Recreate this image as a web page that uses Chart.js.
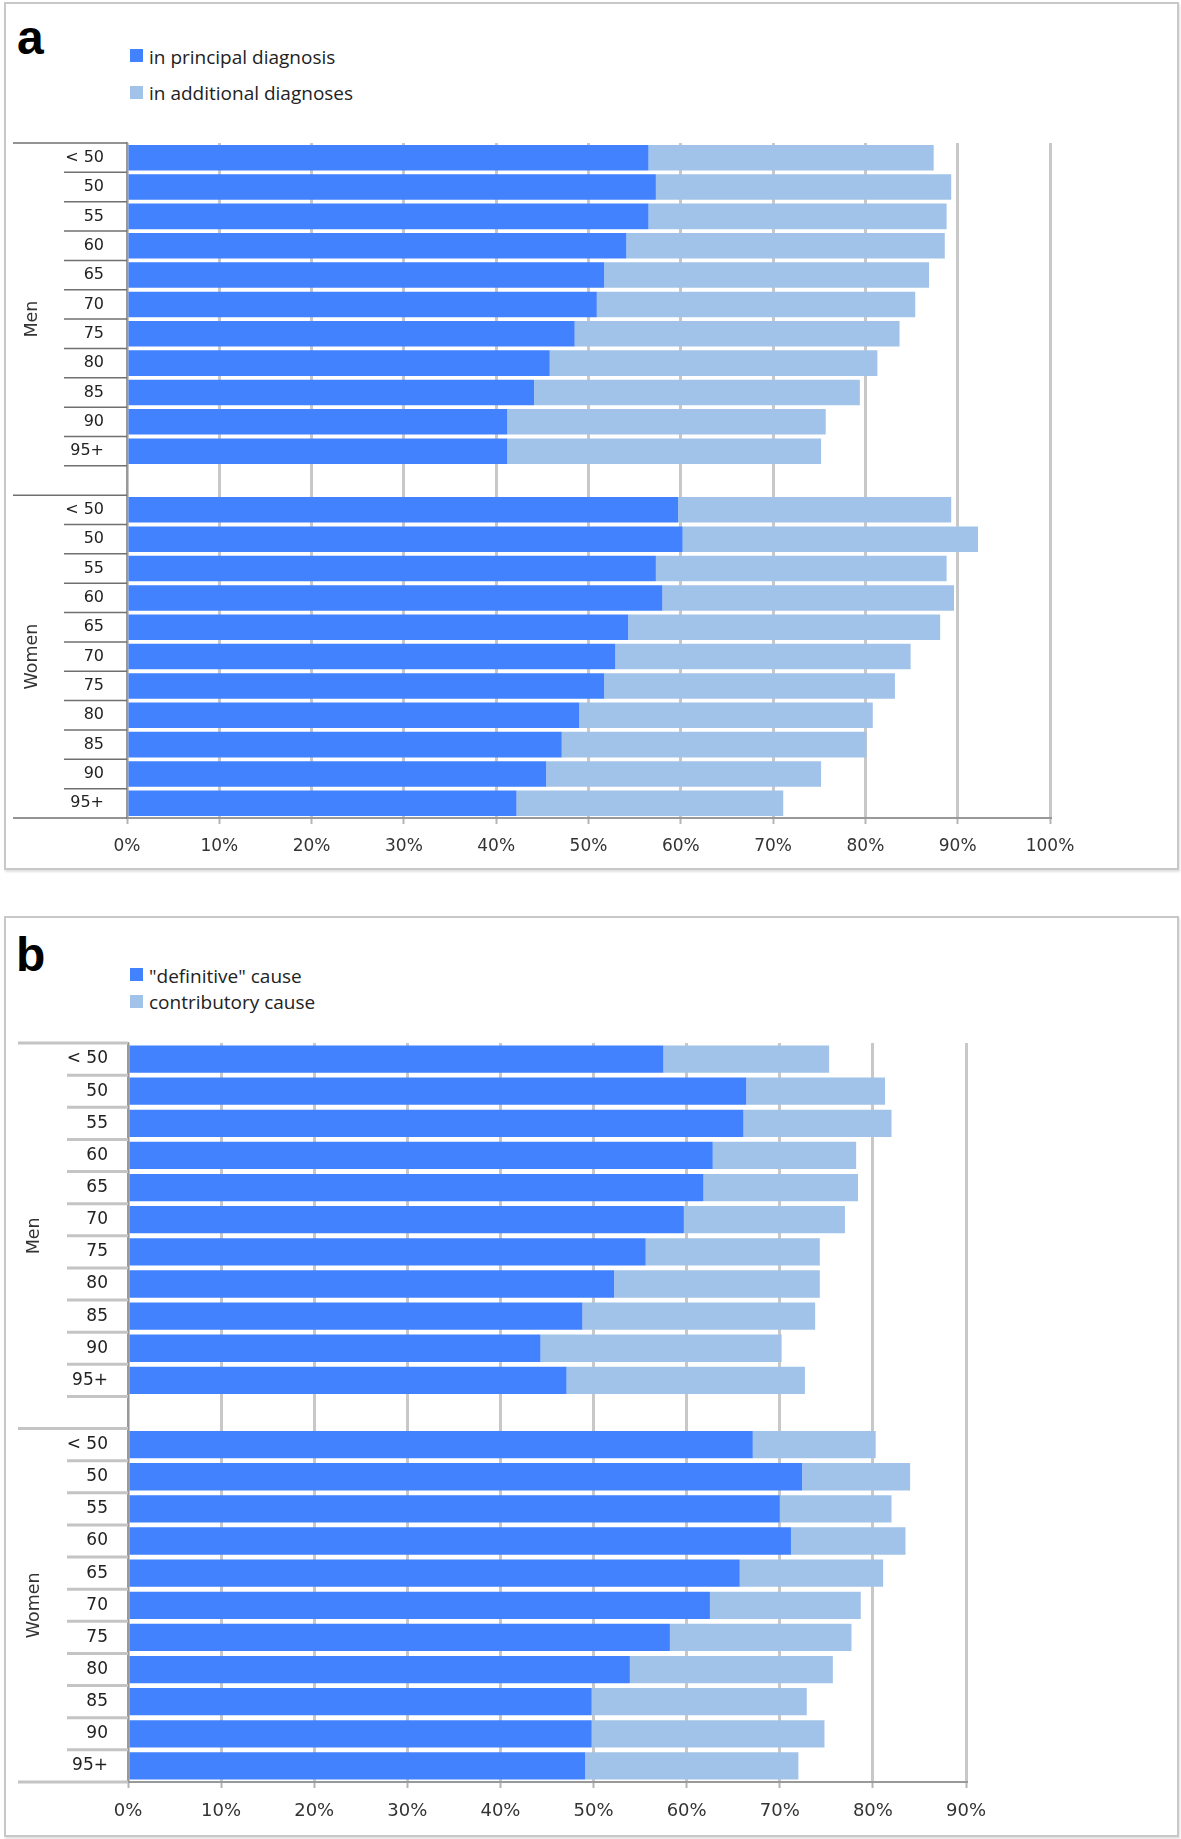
<!DOCTYPE html>
<html>
<head>
<meta charset="utf-8">
<title>Principal vs additional diagnoses by age and sex</title>
<script src="https://cdn.jsdelivr.net/npm/chart.js@4.4.0/dist/chart.umd.min.js"></script>
<style>
  html, body { margin: 0; padding: 0; background: #fff; }
  #page { position: relative; width: 1181px; height: 1839px; overflow: hidden; }
  .panel { position: absolute; left: 4px; width: 1175px; box-sizing: border-box;
           border: 2px solid #c8c8c8; box-shadow: 1px 2px 2px rgba(0,0,0,0.12); }
  .tag { position: absolute; font-family: 'Liberation Sans', Arial, sans-serif; font-weight: bold;
         font-size: 48px; line-height: 48px; color: #000; }
  .chart-box { position: absolute; left: 0; width: 1181px; }
  .swatch { position: absolute; width: 13px; height: 13px; }
  .legend-text { position: absolute; white-space: nowrap; font-family: 'Open Sans', sans-serif;
                 font-size: 19px; line-height: 19px; color: #222; }
</style>
</head>
<body>
<div id="page">
  <div class="panel" style="top:2px; height:868px;"></div>
  <div class="panel" style="top:916px; height:921px;"></div>
  <div class="tag" style="left:17px; top:14px;">a</div>
  <div class="tag" style="left:16px; top:931px;">b</div>
  <div id="legendA"></div>
  <div id="legendB"></div>
  <div class="chart-box" style="top:130px; height:740px;"><canvas id="chartA"></canvas></div>
  <div class="chart-box" style="top:1030px; height:809px;"><canvas id="chartB"></canvas></div>
</div>
<script>
// age bands, same for both sexes; a blank row separates Men and Women
const ageGroups = ['< 50', '50', '55', '60', '65', '70', '75', '80', '85', '90', '95+'];
const sexGroups = ['Men', 'Women'];
const categories = [...ageGroups, '', ...ageGroups];

// panel a - % of cases (principal / additional diagnoses)
const seriesA = ['in principal diagnosis', 'in additional diagnoses'];
const menPrincipal    = [56.5, 57.3, 56.5, 54.1, 51.7, 50.9, 48.5, 45.8, 44.1, 41.2, 41.2];
const menAdditional   = [30.9, 32.0, 32.3, 34.5, 35.2, 34.5, 35.2, 35.5, 35.3, 34.5, 34.0];
const womenPrincipal  = [59.7, 60.2, 57.3, 58.0, 54.3, 52.9, 51.7, 49.0, 47.1, 45.4, 42.2];
const womenAdditional = [29.6, 32.0, 31.5, 31.6, 33.8, 32.0, 31.5, 31.8, 33.0, 29.8, 28.9];

// panel b - % of cases ("definitive" / contributory cause)
const seriesB = ['"definitive" cause', 'contributory cause'];
const menDefinitive     = [57.5, 66.4, 66.1, 62.8, 61.8, 59.7, 55.6, 52.2, 48.8, 44.3, 47.1];
const menContributory   = [17.8, 14.9, 15.9, 15.4, 16.6, 17.3, 18.7, 22.1, 25.0, 25.9, 25.6];
const womenDefinitive   = [67.1, 72.4, 70.0, 71.2, 65.7, 62.5, 58.2, 53.9, 49.8, 49.8, 49.1];
const womenContributory = [13.2, 11.6, 12.0, 12.3, 15.4, 16.2, 19.5, 21.8, 23.1, 25.0, 22.9];

const xTicksA = [0, 10, 20, 30, 40, 50, 60, 70, 80, 90, 100];
const xTicksB = [0, 10, 20, 30, 40, 50, 60, 70, 80, 90];

const darkBlue = '#4282ff';
const lightBlue = '#a2c3e9';

// Excel-style two level category axis: separators + rotated group names
const groupAxisPlugin = {
    id: 'groupAxis',
    afterDraw(chart, args, opts) {
        const ctx = chart.ctx;
        const y = chart.scales.y;
        const right = chart.chartArea.left;
        const half = Math.abs(y.getPixelForValue(1) - y.getPixelForValue(0)) / 2;
        const n = chart.data.labels.length;
        // Men group owns the blank row too
        const groups = [
            { name: sexGroups[0], from: 0, to: ageGroups.length },
            { name: sexGroups[1], from: ageGroups.length + 1, to: n - 1 }
        ];
        ctx.save();
        ctx.strokeStyle = opts.lineColor;
        ctx.lineWidth = opts.lineWidth;
        const hline = (x0, x1, yy) => {
            ctx.beginPath();
            ctx.moveTo(x0, yy);
            ctx.lineTo(x1, yy);
            ctx.stroke();
        };
        groups.forEach(g => {
            hline(opts.groupLeft, right, y.getPixelForValue(g.from) - half);
            for (let i = g.from; i < g.to; i++) {
                hline(opts.shortLeft, right, y.getPixelForValue(i) + half);
            }
        });
        hline(opts.groupLeft, right, y.getPixelForValue(n - 1) + half);

        ctx.fillStyle = '#333';
        ctx.font = opts.font;
        ctx.textAlign = 'center';
        ctx.textBaseline = 'middle';
        groups.forEach(g => {
            const top = y.getPixelForValue(g.from) - half;
            const bottom = y.getPixelForValue(g.to) + half;
            ctx.save();
            ctx.translate(opts.labelX, (top + bottom) / 2);
            ctx.rotate(-Math.PI / 2);
            ctx.fillText(g.name, 0, 0);
            ctx.restore();
        });
        ctx.restore();
    }
};

function buildChart(cfg) {
    const canvas = document.getElementById(cfg.canvasId);
    return new Chart(canvas, {
        type: 'bar',
        data: {
            labels: categories,
            datasets: [
                { label: cfg.names[0], data: [...cfg.men[0], null, ...cfg.women[0]], backgroundColor: darkBlue },
                { label: cfg.names[1], data: [...cfg.men[1], null, ...cfg.women[1]], backgroundColor: lightBlue }
            ]
        },
        options: {
            indexAxis: 'y',
            responsive: true,
            maintainAspectRatio: false,
            animation: false,
            barPercentage: cfg.barPct,
            categoryPercentage: 1,
            layout: { padding: cfg.padding },
            plugins: {
                legend: { display: false },
                tooltip: { enabled: false },
                groupAxis: cfg.groupAxis
            },
            scales: {
                x: {
                    stacked: true,
                    min: 0,
                    max: cfg.xTicks[cfg.xTicks.length - 1],
                    afterBuildTicks: s => { s.ticks = cfg.xTicks.map(v => ({ value: v })); },
                    ticks: {
                        callback: v => v + '%',
                        color: '#333',
                        font: { family: 'DejaVu Sans', size: cfg.xFont },
                        padding: cfg.xPad,
                        maxRotation: 0,
                        autoSkip: false
                    },
                    grid: { color: '#c8c8c8', lineWidth: 3, tickLength: 6, tickColor: '#b4b4b4', tickWidth: 2 },
                    border: { color: '#999', width: 2 },
                    afterFit: s => { s.height = 52; }
                },
                y: {
                    stacked: true,
                    ticks: {
                        color: '#222',
                        font: { family: 'DejaVu Sans', size: cfg.yFont },
                        padding: cfg.yPad,
                        autoSkip: false
                    },
                    grid: { display: false, drawTicks: false },
                    border: { color: '#999', width: 2 },
                    afterFit: s => {
                        s.width = cfg.yWidth;
                        s.paddingTop = 0;
                        s.paddingBottom = 0;
                    }
                }
            }
        },
        plugins: [groupAxisPlugin]
    });
}

function buildLegend(holderId, chart, pos) {
    const holder = document.getElementById(holderId);
    chart.data.datasets.forEach((ds, i) => {
        const sw = document.createElement('div');
        sw.className = 'swatch';
        sw.style.left = pos.swatchLeft + 'px';
        sw.style.top = pos.swatchTops[i] + 'px';
        sw.style.background = ds.backgroundColor;
        const tx = document.createElement('div');
        tx.className = 'legend-text';
        tx.style.left = pos.textLeft + 'px';
        tx.style.top = pos.textTops[i] + 'px';
        tx.textContent = ds.label;
        holder.appendChild(sw);
        holder.appendChild(tx);
    });
}

const chartA = buildChart({
    canvasId: 'chartA',
    names: seriesA,
    men: [menPrincipal, menAdditional],
    women: [womenPrincipal, womenAdditional],
    xTicks: xTicksA,
    barPct: 0.87,
    padding: { top: 13, right: 131, left: 0, bottom: 0 },
    xFont: 17, xPad: 12,
    yFont: 16, yPad: 23, yWidth: 127,
    groupAxis: { groupLeft: 13, shortLeft: 64, lineColor: '#707070', lineWidth: 1.5, labelX: 32,
                 font: '17.5px "DejaVu Sans"' }
});

const chartB = buildChart({
    canvasId: 'chartB',
    names: seriesB,
    men: [menDefinitive, menContributory],
    women: [womenDefinitive, womenContributory],
    xTicks: xTicksB,
    barPct: 0.85,
    padding: { top: 13, right: 215, left: 0, bottom: 5 },
    xFont: 18, xPad: 13,
    yFont: 17, yPad: 20, yWidth: 128,
    groupAxis: { groupLeft: 18, shortLeft: 67, lineColor: '#c4c4c4', lineWidth: 3, labelX: 34,
                 font: '17.5px "DejaVu Sans"' }
});

buildLegend('legendA', chartA, { swatchLeft: 130, swatchTops: [49, 86], textLeft: 149, textTops: [48, 84] });
buildLegend('legendB', chartB, { swatchLeft: 130, swatchTops: [968, 995], textLeft: 149, textTops: [967, 993] });
</script>
</body>
</html>
